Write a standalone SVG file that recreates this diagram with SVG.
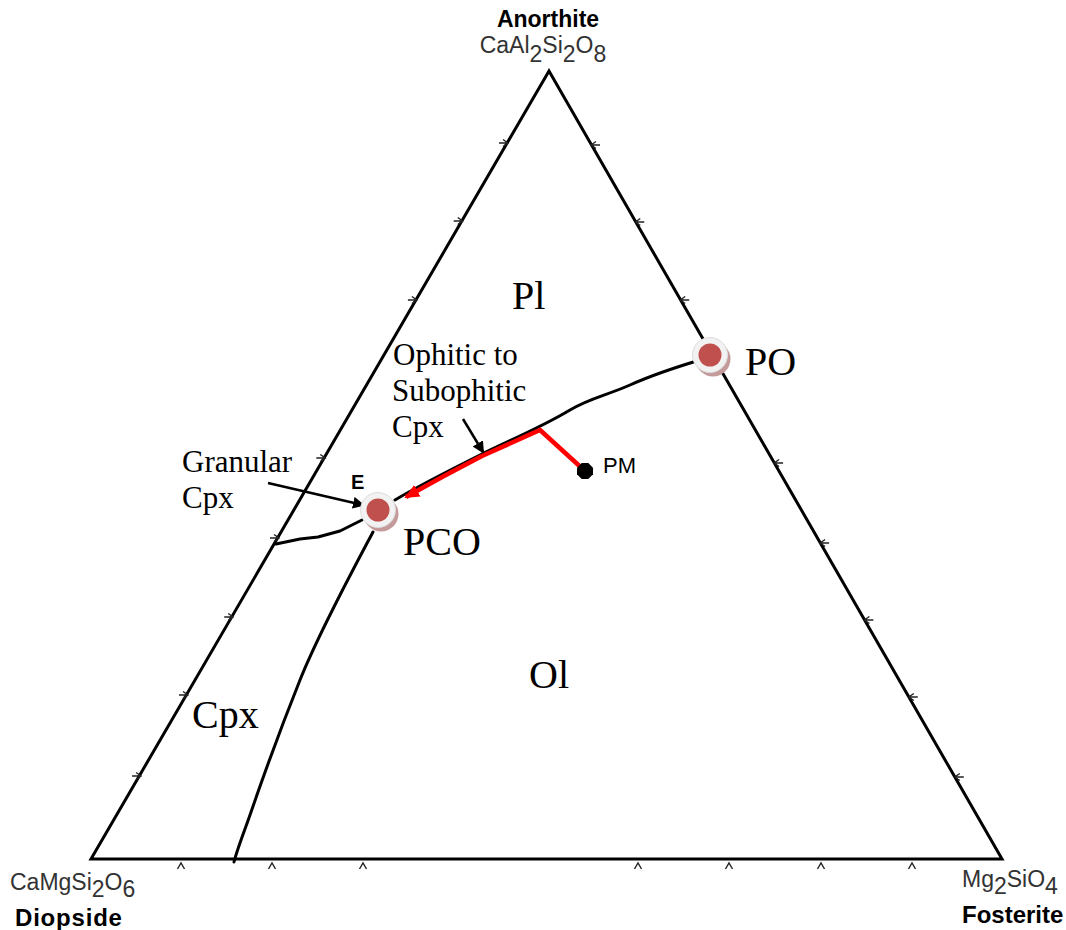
<svg xmlns="http://www.w3.org/2000/svg" width="1066" height="930" viewBox="0 0 1066 930">
<style>
.serif{font-family:"Liberation Serif","Times New Roman",serif;fill:#000}
.big{font-size:40px}
.small{font-size:31px}
.sans{font-family:"Liberation Sans",Arial,sans-serif}
.bold{font-weight:bold;font-size:24px;fill:#000}
.formula{font-size:23px;fill:#333}
.edge{fill:none;stroke:#000;stroke-width:3;stroke-linejoin:miter}
.bound{fill:none;stroke:#000;stroke-width:3;stroke-linejoin:round;stroke-linecap:round}
.tick{fill:none;stroke:#222;stroke-width:1.4}
.arr{fill:none;stroke:#000;stroke-width:2.5}
.red{fill:none;stroke:#ff0000;stroke-width:4.5;stroke-linejoin:miter}
</style>
<defs>
<marker id="ah" markerWidth="12" markerHeight="12" refX="10" refY="6" orient="auto" markerUnits="userSpaceOnUse" viewBox="0 0 12 12">
<path d="M0,0 L12,6 L0,12 Z" fill="#000"/>
</marker>
<marker id="rah" markerWidth="15" markerHeight="15" refX="13" refY="7.5" orient="auto" markerUnits="userSpaceOnUse" viewBox="0 0 15 15">
<path d="M0,1 L15,7.5 L0,14 Z" fill="#ff0000"/>
</marker>
<path id="tl" d="M0,0 L-9,0 M-5,-3.5 L0,0 L-5,3.5"/>
<path id="tr" d="M0,0 L9,0 M5,-3.5 L0,0 L5,3.5"/>
<path id="tb" d="M-3.5,6 L0,0 L3.5,6"/>
<g id="mk">
<circle cx="3" cy="4" r="17.5" fill="#c49a9a"/>
<circle cx="0" cy="0" r="17.5" fill="#f2f2f2" stroke="#dcdcdc" stroke-width="1"/>
<circle cx="0" cy="0" r="11.5" fill="#c0504d"/>
</g>
</defs>

<g id="triangle">
<path class="edge" d="M549,71 L91,859 L1002,859 Z"/>
</g>

<g id="ticks">
<use href="#tl" class="tick" x="508" y="143"/>
<use href="#tl" class="tick" x="462.7" y="221"/>
<use href="#tl" class="tick" x="416.9" y="300"/>
<use href="#tl" class="tick" x="325.3" y="458"/>
<use href="#tl" class="tick" x="279" y="538"/>
<use href="#tl" class="tick" x="233.2" y="617"/>
<use href="#tl" class="tick" x="188" y="695"/>
<use href="#tl" class="tick" x="141.1" y="776"/>
<use href="#tr" class="tick" x="591" y="145"/>
<use href="#tr" class="tick" x="635.3" y="222"/>
<use href="#tr" class="tick" x="680.2" y="300"/>
<use href="#tr" class="tick" x="774.1" y="463"/>
<use href="#tr" class="tick" x="820.1" y="543"/>
<use href="#tr" class="tick" x="864.4" y="620"/>
<use href="#tr" class="tick" x="908.8" y="697"/>
<use href="#tr" class="tick" x="954.8" y="777"/>
<use href="#tb" class="tick" x="181" y="863"/>
<use href="#tb" class="tick" x="272" y="863"/>
<use href="#tb" class="tick" x="363" y="863"/>
<use href="#tb" class="tick" x="638" y="863"/>
<use href="#tb" class="tick" x="729" y="863"/>
<use href="#tb" class="tick" x="821" y="863"/>
<use href="#tb" class="tick" x="912" y="863"/>
</g>

<g id="connectors">
<path class="bound" d="M700,360 C680,366 650,376 630,385 C605,396 590,398 570,410 C540,428 510,440 480,455 C450,470 420,485 395,500"/>
<path class="bound" d="M276,544 L300,539 L318,537 L340,531 L362,520"/>
<path class="bound" d="M373,532 C350,575 318,635 300,680 C282,725 262,780 250,815 C243,835 237,850 234,862"/>
<path class="red" d="M585,471 L540,430 L482,456 L444,476 L406,497" marker-end="url(#rah)"/>
<line class="arr" x1="268" y1="483" x2="363" y2="505" marker-end="url(#ah)"/>
<line class="arr" x1="463" y1="419" x2="483" y2="452" marker-end="url(#ah)"/>
</g>

<g id="PO">
<use href="#mk" x="710" y="355"/>
<text class="serif big" x="745" y="375">PO</text>
</g>
<g id="PCO">
<use href="#mk" x="378" y="510"/>
<text class="serif big" x="403" y="555">PCO</text>
</g>
<g id="E">
<text class="sans" x="351" y="489" style="font-weight:bold;font-size:20px">E</text>
</g>
<g id="PM">
<polygon points="588.3,463 593,467.7 593,474.3 588.3,479 581.7,479 577,474.3 577,467.7 581.7,463" fill="#000"/>
<text class="sans" x="603" y="473" style="font-size:22px">PM</text>
</g>

<g id="labels">
<text class="serif big" x="512" y="309">Pl</text>
<text class="serif big" x="529" y="688">Ol</text>
<text class="serif big" x="192" y="728">Cpx</text>
<text class="serif small"><tspan x="393" y="365">Ophitic to</tspan><tspan x="392" y="401">Subophitic</tspan><tspan x="392" y="437">Cpx</tspan></text>
<text class="serif small"><tspan x="182" y="472">Granular</tspan><tspan x="182" y="508">Cpx</tspan></text>
</g>

<g id="Anorthite">
<text class="sans bold" x="548" y="27" text-anchor="middle" style="font-size:23px">Anorthite</text>
<text class="sans formula" x="543" y="53" text-anchor="middle">CaAl<tspan dy="9">2</tspan><tspan dy="-9">Si</tspan><tspan dy="9">2</tspan><tspan dy="-9">O</tspan><tspan dy="9">8</tspan></text>
</g>
<g id="Diopside">
<text class="sans formula" x="10" y="890">CaMgSi<tspan dy="7">2</tspan><tspan dy="-7">O</tspan><tspan dy="7">6</tspan></text>
<text class="sans bold" x="15" y="926" style="letter-spacing:0.8px">Diopside</text>
</g>
<g id="Fosterite">
<text class="sans formula" x="962" y="887">Mg<tspan dy="7">2</tspan><tspan dy="-7">SiO</tspan><tspan dy="7">4</tspan></text>
<text class="sans bold" x="962" y="923">Fosterite</text>
</g>
</svg>
